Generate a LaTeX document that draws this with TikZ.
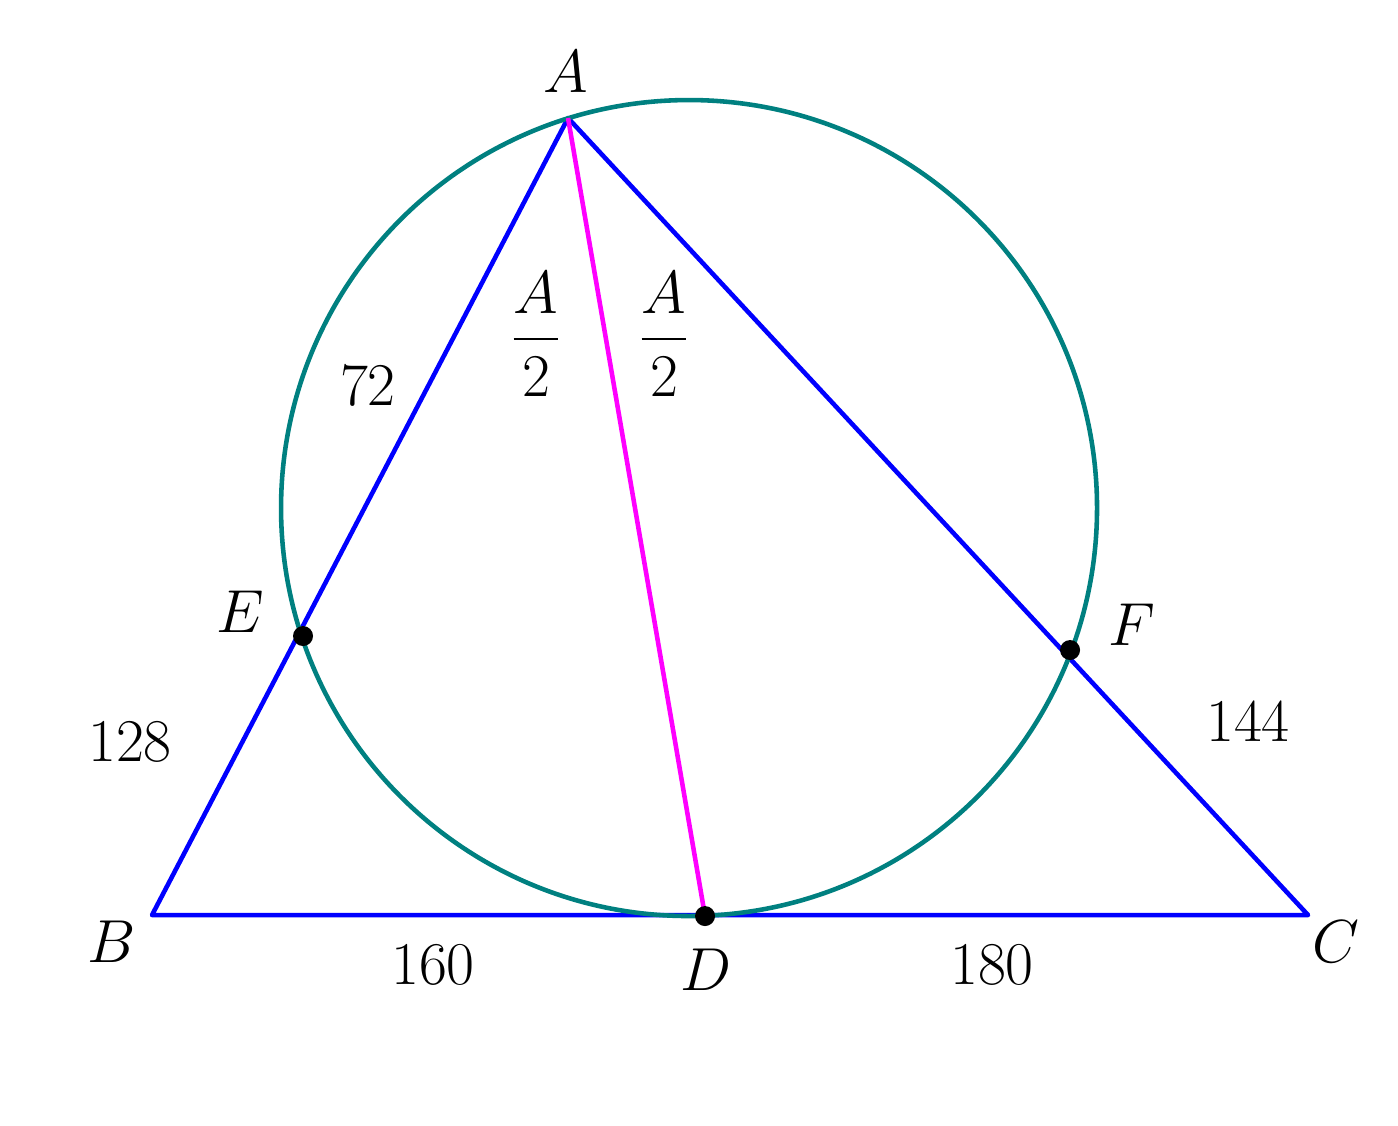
\documentclass[tikz,border=0pt]{standalone}
\usepackage{amsmath}
\usepackage{amssymb}
\usepackage{tikz}
\definecolor{circteal}{RGB}{0,128,128}
\definecolor{bisect}{RGB}{255,0,255}

\begin{document}
\begin{tikzpicture}[scale=0.1]
			\tikzstyle{every node}+=[inner sep=0pt, font=\fontsize{16.5}{20}\selectfont]
			\tikzstyle{side}=[blue, line width=1.3pt, line join=round]
			\useasboundingbox (0,0) rectangle (139.8,-112.5);
			\coordinate (A) at (56.8,-11.8);
			\coordinate (B) at (15.2,-91.5);
			\coordinate (C) at (130.8,-91.5);
			\coordinate (D) at (70.5,-91.6);
			\coordinate (E) at (30.3,-63.6);
			\coordinate (F) at (107,-65);
			\coordinate (O) at (68.9,-50.8);
			\draw [side] (A) -- (B) -- (C) -- cycle;
			\draw [circteal, line width=1.3pt] (O) circle (40.8);
			\draw [bisect, line width=1.3pt] (A) -- (D);
			\fill [black] (D) circle (1);
			\fill [black] (E) circle (1);
			\fill [black] (F) circle (1);
			\draw (56.6,-7.2) node (lA) {$A$};
			\draw (11.2,-94.2) node (lB) {$B$};
			\draw (133.6,-94.2) node (lC) {$C$};
			\draw (70.6,-97) node (lD) {$D$};
			\draw (24,-61.2) node (lE) {$E$};
			\draw (113.2,-62.5) node (lF) {$F$};
			\draw (36.8,-38.6) node (l72) {$72$};
			\draw (13,-74.2) node (l128) {$128$};
			\draw (124.8,-72.2) node (l144) {$144$};
			\draw (43.3,-96.5) node (l160) {$160$};
			\draw (99.2,-96.5) node (l180) {$180$};
			\draw (53.6,-33.4) node (lhalf1) {$\dfrac{A}{2}$};
			\draw (66.4,-33.4) node (lhalf2) {$\dfrac{A}{2}$};
\end{tikzpicture}
\end{document}
